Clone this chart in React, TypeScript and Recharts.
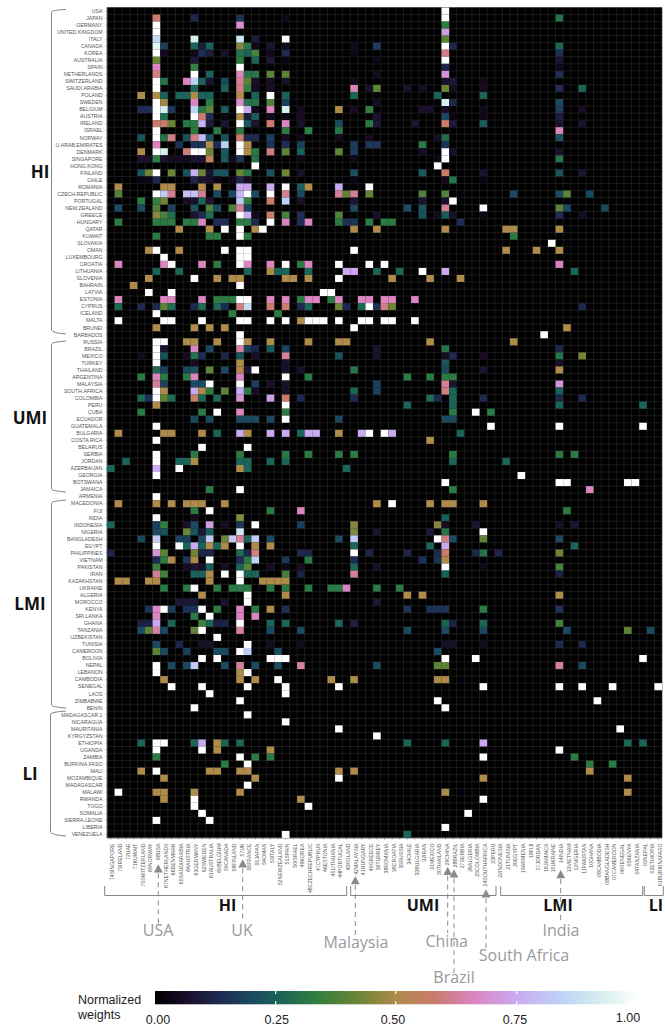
import { CartesianGrid, Scatter, ScatterChart, XAxis, YAxis } from "recharts";

const countries = [
  "USA", "JAPAN", "GERMANY", "UNITED.KINGDOM", "ITALY", "CANADA", "KOREA", "AUSTRALIA", "SPAIN", "NETHERLANDS",
  "SWITZERLAND", "SAUDI.ARABIA", "POLAND", "SWEDEN", "BELGIUM", "AUSTRIA", "IRELAND", "ISRAEL", "NORWAY", "U.ARAB.EMIRATES",
  "DENMARK", "SINGAPORE", "HONG.KONG", "FINLAND", "CHILE", "ROMANIA", "CZECH.REPUBLIC", "PORTUGAL", "NEW.ZEALAND", "GREECE",
  "HUNGARY", "QATAR", "KUWAIT", "SLOVAKIA", "OMAN", "LUXEMBOURG", "CROATIA", "LITHUANIA", "SLOVENIA", "BAHRAIN",
  "LATVIA", "ESTONIA", "CYPRUS", "ICELAND", "MALTA", "BRUNEI", "BARBADOS", "RUSSIA", "BRAZIL", "MEXICO",
  "TURKEY", "THAILAND", "ARGENTINA", "MALAYSIA", "SOUTH.AFRICA", "COLOMBIA", "PERU", "CUBA", "ECUADOR", "GUATEMALA",
  "BULGARIA", "COSTA.RICA", "BELARUS", "SERBIA", "JORDAN", "AZERBAIJAN", "GEORGIA", "BOTSWANA", "JAMAICA", "ARMENIA",
  "MACEDONIA", "FIJI", "INDIA", "INDONESIA", "NIGERIA", "BANGLADESH", "EGYPT", "PHILIPPINES", "VIETNAM", "PAKISTAN",
  "IRAN", "KAZAKHSTAN", "UKRAINE", "ALGERIA", "MOROCCO", "KENYA", "SRI.LANKA", "GHANA", "TANZANIA", "UZBEKISTAN",
  "TUNISIA", "CAMEROON", "BOLIVIA", "NEPAL", "LEBANON", "CAMBODIA", "SENEGAL", "LAOS", "ZIMBABWE", "BENIN",
  "MADAGASCAR.1", "NICARAGUA", "MAURITANIA", "KYRGYZSTAN", "ETHIOPIA", "UGANDA", "ZAMBIA", "BURKINA.FASO", "MALI", "MOZAMBIQUE",
  "MADAGASCAR", "MALAWI", "RWANDA", "TOGO", "SOMALIA", "SIERRA.LEONE", "LIBERIA", "VENEZUELA",
];

const columns = [
  "74SINGAPORE", "73IRELAND", "72UAE", "71KUWAIT", "70SWITZERLAND", "69NORWAY", "68USA", "67NETHERLANDS", "66DENMARK", "65SAUDIARABIA",
  "64AUSTRIA", "63GERMANY", "62SWEDEN", "61AUSTRALIA", "60BELGIUM", "59CANADA", "58FINLAND", "57UK", "56FRANCE", "55JAPAN",
  "54OMAN", "53ITALY", "52NEWZEALAND", "51SPAIN", "50ISRAEL", "49KOREA", "48CZECHREPUBLIC", "47CYPRUS", "46ESTONIA", "45LITHUANIA",
  "44PORTUGAL", "43POLAND", "42MALAYSIA", "41HUNGARY", "40GREECE", "39TURKEY", "38ROMANIA", "36CROATIA", "35RUSSIA", "34CHILE",
  "33BULGARIA", "32IRAN", "31MEXICO", "30THAILAND", "29CHINA", "28BRAZIL", "27SERBIA", "26ALGERIA", "25COLOMBIA", "24SOUTHAFRICA",
  "23PERU", "22INDONESIA", "21TUNISIA", "20EGYPT", "19ARMENIA", "18FIJI", "17JORDAN", "16JAMAICA", "15UKRAINE", "14INDIA",
  "13VIETNAM", "12NIGERIA", "11PAKISTAN", "10GHANA", "09CAMBODIA", "08BANGLADESH", "07CAMEROON", "06SENEGAL", "05KENYA", "04TANZANIA",
  "03NEPAL", "02ETHIOPIA", "01BURKINAFASO",
];

// one list per country: column index, weight, column index, weight ...
const weights: number[][] = [
  [44, 1],
  [6, .58, 11, .12, 17, .15, 23, .04, 44, 1, 59, .3],
  [6, 1, 17, .68, 44, .33],
  [6, 1, 44, .72],
  [6, .86, 11, .93, 17, .9, 19, .1, 23, 1, 44, .4],
  [6, .95, 7, .18, 11, .26, 12, .1, 13, .25, 17, .45, 18, .31, 19, .04, 21, .08, 23, .05, 32, .05, 35, .17, 44, 1, 45, .12, 59, .26],
  [6, 1, 7, .05, 11, .04, 12, .14, 13, .1, 15, .07, 17, .3, 18, .25, 19, .37, 21, .05, 23, .13, 32, .04, 44, .6, 59, .14],
  [6, .42, 11, .09, 17, .32, 19, .26, 21, .09, 23, .03, 35, .04, 44, 1, 59, .08],
  [6, .66, 11, .34, 17, 1, 44, .12, 59, .04],
  [6, .6, 11, 1, 13, .25, 17, .66, 18, .31, 19, .31, 21, .4, 23, .4, 35, .05, 44, .7, 59, .14],
  [6, 1, 7, .3, 10, .66, 11, .84, 12, .25, 13, .08, 15, .2, 17, .62, 18, .4, 19, .07, 21, .06, 23, .07, 32, .05, 44, .07, 45, .09, 49, .05],
  [6, 1, 11, .26, 15, .25, 17, .6, 18, .33, 19, .06, 21, .06, 32, .65, 34, .07, 35, .4, 39, .07, 41, .06, 44, .42, 45, .06, 49, .06, 59, .14, 62, .26],
  [4, .5, 6, .5, 7, .25, 9, .26, 10, .26, 11, .5, 12, .25, 13, .25, 17, .5, 19, .25, 21, 1, 23, .25, 32, .26, 43, .26, 49, .26],
  [6, 1, 7, .48, 11, .66, 13, .32, 17, .68, 18, .3, 19, .3, 21, .38, 23, .18, 35, .06, 44, .93, 45, .12, 59, .2],
  [4, .14, 5, .14, 6, 1, 7, .92, 8, .16, 11, .84, 12, .32, 13, .4, 15, .24, 17, 1, 18, .75, 19, .05, 21, .66, 23, .93, 25, .05, 30, .5, 32, .06, 34, .33, 41, .07, 42, .07, 44, .06, 49, .05, 59, .17, 62, .06],
  [6, 1, 7, .28, 11, 1, 12, .58, 13, .14, 15, .03, 17, .5, 18, .1, 19, .24, 21, .05, 23, .03, 25, .06, 35, .08, 44, .2, 45, .03, 49, .04, 59, .1],
  [6, .58, 7, .58, 8, .42, 10, .31, 11, .32, 12, .77, 13, .1, 15, .08, 17, 1, 18, .22, 19, .08, 21, .58, 23, .66, 25, .07, 30, .2, 34, .32, 35, .09, 40, .08, 44, .58, 45, .09, 49, .24, 59, .08, 62, .08],
  [6, 1, 11, .32, 14, .32, 17, .32, 23, .32, 26, .33, 30, .31, 59, .65],
  [4, .22, 6, 1, 7, .3, 8, .6, 10, .22, 11, .6, 12, .78, 13, .22, 15, .22, 17, .58, 18, .13, 19, .13, 21, .18, 23, .06, 25, .04, 30, .05, 34, .05, 43, .06, 44, .28, 59, .22],
  [6, .66, 9, .15, 11, .15, 12, .15, 13, .5, 14, .14, 15, .84, 17, 1, 18, .5, 21, .15, 23, .14, 25, .18, 32, .17, 34, .16, 35, .16, 41, .32, 44, .15],
  [4, .5, 6, 1, 7, .93, 10, .6, 11, 1, 12, 1, 13, .42, 15, .24, 17, 1, 18, .5, 19, .32, 21, .6, 23, .4, 25, .25, 30, .4, 32, .17, 41, .06, 44, 1, 45, .07, 59, .07],
  [4, .07, 5, .07, 6, .33, 7, .08, 8, .05, 9, .06, 10, .05, 11, .08, 12, .08, 13, .54, 15, .23, 16, .05, 17, .15, 19, .3, 25, .04, 32, .04, 43, .04, 44, 1, 59, .3],
  [19, 1, 43, 1],
  [4, .22, 5, .42, 6, 1, 8, .42, 10, .22, 11, .76, 12, .42, 13, .08, 14, .22, 15, .22, 17, .42, 18, .31, 21, .22, 23, .42, 25, .07, 32, .22, 41, .23, 44, .58, 49, .08, 59, .22, 62, .08],
  [4, .03, 5, .03, 6, .12, 11, .12, 12, .08, 13, .07, 14, .03, 16, .04, 17, .12, 18, .06, 32, .03, 44, .04, 45, .3, 49, .03],
  [1, .5, 7, .5, 8, .5, 12, .5, 14, .5, 17, .75, 18, .75, 21, .75, 23, 1, 25, .25, 26, .5, 30, .75, 34, 1],
  [1, .38, 6, 1, 7, .82, 8, .62, 10, .8, 11, .8, 12, .62, 14, .2, 16, .2, 17, .78, 18, 1, 19, .2, 21, 1, 23, .62, 25, .2, 30, .62, 31, .4, 32, .62, 34, .4, 41, .38, 44, .38, 53, .2, 59, .2, 60, .4, 63, .2],
  [4, .33, 6, .34, 7, .42, 10, .06, 11, .07, 12, .26, 13, .08, 17, .83, 18, .34, 21, .58, 23, .84, 25, .07, 32, .08, 41, .08, 44, .07, 45, 1],
  [1, .2, 4, .2, 6, .38, 8, .18, 11, .22, 13, .38, 14, .2, 16, .38, 17, .62, 18, .18, 32, .2, 39, .2, 41, .22, 44, .62, 49, 1, 59, .4, 60, .2, 65, .2],
  [6, .46, 7, .38, 8, .28, 11, .08, 12, .14, 13, .28, 17, 1, 18, .76, 19, .05, 21, .56, 23, .36, 25, .14, 30, .38, 35, .07, 41, .22, 43, .05, 44, .24, 45, .07, 49, .04, 59, .14, 62, .06],
  [1, .32, 6, .32, 7, .32, 8, .32, 10, .32, 11, .32, 12, .66, 14, .14, 15, .14, 17, .32, 18, .32, 19, .13, 21, 1, 23, .66, 25, .14, 26, .66, 30, .32, 31, .15, 32, .15, 34, .32, 36, .32, 37, .32, 46, .14],
  [9, .5, 13, .5, 15, 1, 17, 1, 19, .5, 20, 1, 32, .5, 35, .5, 44, .5, 52, .5, 53, .5, 59, .5],
  [6, .32, 13, .32, 14, .32, 17, 1, 18, .32, 53, .32],
  [58, 1],
  [5, .5, 6, 1, 9, .5, 15, 1, 17, 1, 18, 1, 32, 1, 52, .5, 56, .5, 59, .5],
  [7, 1, 17, 1, 18, 1],
  [1, .66, 7, .66, 8, 1, 12, .66, 14, .32, 17, 1, 18, .66, 21, .66, 23, 1, 25, .32, 26, .66, 30, 1, 34, 1, 36, 1, 59, .66],
  [6, .26, 9, .26, 18, .26, 21, .5, 22, .26, 23, .26, 26, .26, 31, .75, 32, .75, 35, .26, 38, .26, 41, 1, 44, .75, 61, .26],
  [5, .5, 11, 1, 14, .5, 16, .5, 17, .5, 23, .5, 24, .5, 26, .5, 30, 1, 37, .5, 42, .5, 46, .5],
  [3, .5, 17, 1],
  [5, 1, 8, 1, 28, 1, 29, 1],
  [1, .66, 7, .66, 8, .66, 12, .66, 14, .32, 15, .32, 16, .32, 17, 1, 18, 1, 21, .66, 23, .66, 25, .32, 26, .66, 27, .66, 29, .32, 30, .66, 33, .66, 34, .66, 36, .66, 37, .66, 40, .66],
  [1, .27, 4, .13, 6, .13, 7, .4, 8, .28, 11, .13, 12, .28, 14, .27, 15, .13, 17, .6, 18, .87, 21, .58, 23, .58, 25, .13, 26, .27, 30, .42, 31, .13, 33, .27, 34, 1, 35, .14, 36, .6, 37, .42, 62, .13],
  [6, 1, 16, .32, 22, .32],
  [1, 1, 7, 1, 8, 1, 12, 1, 17, 1, 18, 1, 21, 1, 23, 1, 25, .5, 26, 1, 27, 1, 28, 1, 30, 1, 33, 1, 34, 1, 36, 1, 37, 1, 40, 1],
  [6, .5, 11, .5, 13, .5, 15, .5, 32, 1, 60, .5],
  [17, 1, 57, 1],
  [6, 1, 7, 1, 10, .5, 11, .5, 14, .5, 17, 1, 18, .5, 21, .5, 26, .5, 30, .5, 31, .5, 42, .5, 53, .5],
  [6, 1, 7, .08, 11, .66, 13, .2, 17, .63, 18, .17, 19, .12, 21, .24, 23, .18, 35, .08, 44, .3, 59, .12],
  [4, .05, 6, 1, 7, .22, 10, .06, 11, .3, 12, .14, 15, .12, 17, .22, 19, .07, 23, .63, 30, .22, 35, .07, 44, .06, 45, .13, 49, .06, 59, .3, 62, .43],
  [6, 1, 11, .06, 17, .5, 23, .07, 44, .22, 59, .07],
  [6, .28, 7, .18, 10, .2, 11, .22, 13, .4, 15, .2, 17, .5, 18, .08, 19, 1, 23, .07, 25, .07, 32, .3, 44, .2, 49, .08, 59, .5],
  [4, .32, 6, .66, 7, .32, 10, .32, 11, .66, 17, .66, 23, 1, 26, .32, 39, .32, 42, .32, 44, .32, 45, .32],
  [6, .62, 7, .18, 11, .2, 12, .2, 13, 1, 17, 1, 19, .18, 21, .07, 23, .07, 35, .18, 44, .62, 45, .08, 59, .7],
  [6, 1, 7, .5, 11, .75, 12, .5, 13, .32, 15, .4, 17, .75, 18, .32, 19, .06, 23, .07, 32, .26, 35, .18, 44, .6, 45, .26, 59, .25],
  [4, .27, 5, .14, 6, 1, 7, .4, 8, .28, 11, .57, 12, .27, 14, .27, 17, .7, 21, .73, 23, .58, 25, .13, 32, .13, 42, .28, 43, .13, 45, .27, 49, .13, 59, .12, 62, .13],
  [6, .5, 23, 1, 39, .26, 45, .26, 59, .26, 70, .26],
  [4, .32, 12, .32, 14, 1, 17, .66, 23, .32, 45, .32, 48, 1, 50, .32],
  [11, .2, 13, .2, 17, .2, 18, .2, 19, .2, 21, .2, 23, 1, 30, .2, 44, .2, 45, .2],
  [6, 1, 50, 1, 59, 1, 70, 1],
  [1, .5, 7, .5, 8, .5, 12, .5, 14, .26, 17, .75, 18, .5, 21, .75, 23, .75, 25, .26, 26, .75, 27, .75, 30, .5, 33, .75, 34, 1, 36, 1, 37, .75, 46, .26],
  [6, 1, 42, .5],
  [12, 1, 18, 1],
  [6, 1, 11, .32, 17, .32, 23, .32, 26, .32, 30, .32, 32, .32, 45, .32, 59, .32, 61, .32],
  [2, .26, 6, 1, 9, .26, 10, .26, 11, .5, 17, .26, 18, .26, 21, .26, 23, .26, 45, .26, 52, .26],
  [0, .26, 6, .75, 9, 1, 17, .5, 18, .26, 31, .26],
  [6, 1, 54, 1],
  [44, 1, 59, 1, 60, 1, 68, 1, 69, 1],
  [13, .32, 17, 1, 45, .32, 63, .66],
  [6, 1],
  [1, .5, 6, .5, 8, .5, 10, .5, 11, .5, 12, .5, 15, .5, 35, .5, 37, 1, 42, .5, 44, .5, 45, .5, 49, .5],
  [11, .32, 13, 1, 21, .32, 25, .66, 60, .32],
  [6, 1, 11, .05, 17, .45, 44, .24],
  [0, .26, 6, .18, 7, .34, 10, .07, 11, .2, 13, .72, 15, .06, 17, .16, 19, 1, 25, .18, 32, .45, 43, .45, 44, .06, 48, .08, 59, .07, 61, .08],
  [6, .2, 7, .22, 10, .42, 11, .22, 12, .09, 13, .24, 17, .9, 32, .45, 35, .08, 42, .09, 44, .3, 49, 1],
  [4, .2, 6, .82, 9, .18, 10, .18, 12, .2, 13, .82, 15, .42, 16, .82, 17, .62, 18, .26, 19, .82, 21, .2, 30, .2, 32, .83, 43, 1, 44, .6, 45, .2, 49, .4, 59, .2],
  [6, 1, 9, 1, 10, .26, 11, .75, 12, .26, 13, .5, 14, .26, 15, .5, 17, 1, 19, .5, 21, .5, 32, .26, 42, .26, 44, .75, 61, .26],
  [0, .12, 6, .7, 7, .4, 11, .42, 12, .12, 13, .12, 17, .28, 18, .12, 19, .6, 25, .13, 26, .12, 32, 1, 34, .12, 39, .12, 43, .13, 44, .58, 48, .12, 49, .3, 51, .12, 59, .42],
  [6, .14, 7, .32, 8, .5, 10, .16, 11, .5, 13, 1, 17, .14, 18, .32, 19, .85, 23, .16, 26, .32, 32, .14, 41, .15, 43, .15, 44, .5],
  [6, .35, 10, .06, 11, .08, 12, .07, 13, .24, 15, .06, 17, .26, 18, .4, 21, .06, 23, .04, 25, .06, 32, .27, 35, .07, 44, 1, 49, .04, 59, .36],
  [6, .62, 7, .36, 11, .25, 12, .25, 13, .5, 15, 1, 17, 1, 18, .26, 19, .26, 23, .36, 25, .11, 32, .62, 44, .25, 59, .11],
  [1, .5, 2, .5, 5, .5, 6, .5, 13, .5, 17, 1, 20, .5, 21, .5, 22, .5, 23, .5],
  [7, .32, 10, .32, 11, 1, 14, .32, 16, .32, 17, .32, 18, .32, 21, .32, 23, .32, 26, .32, 29, .32, 30, .32, 31, .66, 35, .32, 38, .32],
  [12, .5, 18, 1, 23, .5, 39, .5, 41, .5, 59, .5],
  [9, .09, 10, .09, 11, .09, 15, .08, 18, 1, 35, .09],
  [5, .15, 6, .66, 7, 1, 8, .17, 10, .15, 11, .15, 12, 1, 14, .32, 17, .66, 19, .32, 21, .5, 23, .14, 39, .15, 42, .15, 43, .15, 44, .15, 49, .32, 59, .15],
  [6, .66, 11, .32, 13, 1, 17, .66, 19, .66],
  [4, .11, 5, .11, 6, .75, 8, .26, 12, .36, 13, .26, 14, .11, 15, .11, 17, 1, 21, .26, 23, .26, 30, .26, 32, .11, 44, .26, 45, .11, 49, .26, 59, .36],
  [4, .2, 5, .4, 6, .63, 7, .2, 11, .4, 12, 1, 17, .63, 21, .2, 25, .2, 39, .2, 44, .2, 49, .2, 60, .2, 68, .4, 71, .2],
  [14, 1],
  [6, .2, 9, .12, 12, .07, 13, .07, 18, 1, 21, .06, 25, .05, 44, .07, 45, .07, 49, .05, 59, .13, 62, .12],
  [6, .4, 7, .2, 10, .18, 14, .2, 15, .2, 17, 1, 18, .83, 22, .2, 43, .2],
  [12, 1, 14, 1, 21, 1, 22, 1, 23, 1, 44, 1, 48, 1, 70, 1],
  [6, 1, 8, .2, 10, .2, 11, .82, 15, .2, 17, .63, 19, .2, 22, .2, 25, .63, 35, .2, 43, .4, 44, .4, 59, .63, 62, .2],
  [6, 1, 17, .5, 18, 1],
  [7, .5, 17, .5, 19, .5, 22, 1, 29, .5, 32, .5, 43, .5, 44, .5],
  [8, 1, 12, 1, 18, 1, 23, 1, 30, 1, 49, 1, 59, 1, 62, 1, 66, 1, 72, 1],
  [13, 1, 23, 1],
  [17, 1, 43, 1, 64, 1],
  [11, 1, 44, 1],
  [18, 1],
  [23, 1],
  [30, 1, 67, 1],
  [35, 1],
  [4, .26, 6, 1, 7, 1, 11, .26, 12, .75, 14, .5, 15, .26, 17, .26, 39, .26, 44, .26, 49, .75, 68, .26, 70, .26],
  [6, 1, 12, 1, 14, .5, 21, .5, 59, 1],
  [6, .32, 17, 1, 19, .32, 21, .32, 49, 1, 61, .32],
  [15, .32, 18, 1, 63, .32, 66, .32],
  [4, .5, 6, 1, 13, .5, 14, .5, 17, .5, 18, .5, 30, .5, 32, .5, 63, .5],
  [7, .5, 19, .5, 30, 1, 49, .5, 68, .5],
  [18, 1],
  [1, 1, 6, .5, 7, .5, 11, .5, 17, .5, 44, .5, 68, .5],
  [7, .5, 11, 1, 25, .5, 49, 1],
  [11, 1, 26, 1],
  [12, 1, 47, 1],
  [6, 1, 13, 1],
  [44, 1],
  [23, 1, 39, .26],
];

const colorStops: [number, string][] = [
  [0, "#000000"], [.06, "#180c24"], [.14, "#1f2d55"], [.2, "#1b4a60"], [.26, "#1a6558"], [.33, "#2f7d40"],
  [.42, "#6b8535"], [.5, "#ae8a4b"], [.58, "#cb7b6c"], [.66, "#da85bf"], [.75, "#c9aaf0"], [.85, "#bdd6f5"],
  [.93, "#d8f0ee"], [1, "#ffffff"],
];

const legendTicks = ["0.00", "0.25", "0.50", "0.75", "1.00"];

const groupBrackets = [
  { name: "HI", side: "M66 9.5 Q52 10 51.5 12 V330 Q52 333 66 334", x: 40, y: 172 },
  { name: "UMI", side: "M66 341 Q52 342 51.5 344 V489 Q52 491 66 492", x: 30, y: 418 },
  { name: "LMI", side: "M66 500 Q52 501 51.5 503 V705 Q52 707 66 708", x: 30, y: 604 },
  { name: "LI", side: "M66 711 Q52 712 50.5 714 V832 Q52 835 66 836", x: 30, y: 774 },
];

const bottomBrackets = [
  { name: "HI", x1: 104.7, x2: 346.7, lx: 227.5 },
  { name: "UMI", x1: 350.7, x2: 496, lx: 423 },
  { name: "LMI", x1: 500.7, x2: 642.7, lx: 558 },
  { name: "LI", x1: 644.3, x2: 663.3, lx: 656 },
];

const callouts = [
  { name: "USA", x: 158.3, tip: 864.3, end: 925, tx: 158, ty: 930 },
  { name: "UK", x: 242.7, tip: 859.3, end: 920, tx: 242, ty: 930 },
  { name: "Malaysia", x: 355.3, tip: 876, end: 935, tx: 356, ty: 942.5 },
  { name: "China", x: 447.7, tip: 866.7, end: 933, tx: 446.7, ty: 941 },
  { name: "Brazil", x: 454, tip: 869.3, end: 973, tx: 454, ty: 977 },
  { name: "South Africa", x: 486, tip: 889.3, end: 948, tx: 524, ty: 955 },
  { name: "India", x: 560.7, tip: 870, end: 921.7, tx: 561, ty: 930 },
];

const cellData = weights.flatMap((list, row) => {
  const out: { col: number; row: number; weight: number }[] = [];
  for (let i = 0; i < list.length; i += 2) out.push({ col: list[i] + 0.5, row: row + 0.5, weight: list[i + 1] });
  return out;
});

const W = 665;
const H = 1025;
const PLOT = { left: 107, top: 7.5, width: 555, height: 830.5 };
const cellW = PLOT.width / columns.length;
const cellH = PLOT.height / countries.length;

function hexToRgb(hex: string) {
  return [1, 3, 5].map((i) => parseInt(hex.slice(i, i + 2), 16));
}

function weightColor(v: number) {
  for (let i = 1; i < colorStops.length; i++) {
    const [v0, c0] = colorStops[i - 1];
    const [v1, c1] = colorStops[i];
    if (v <= v1) {
      const t = (v - v0) / (v1 - v0);
      const a = hexToRgb(c0);
      const b = hexToRgb(c1);
      return `rgb(${a.map((x, k) => Math.round(x + (b[k] - x) * t)).join(",")})`;
    }
  }
  return "#ffffff";
}

const CellShape = (props: any) => (
  <rect
    x={props.cx - cellW / 2}
    y={props.cy - cellH / 2}
    width={cellW}
    height={cellH}
    fill={weightColor(props.payload.weight)}
  />
);

const CountryTick = ({ x, y, payload }: any) => (
  <text x={x - 1} y={y + 1.8} textAnchor="end" fontSize={5.2} fontFamily="Liberation Sans" fill="#555">
    {countries[Math.floor(payload.value)]}
  </text>
);

const ColumnTick = ({ x, y, payload }: any) => (
  <text
    transform={`translate(${x + 3.6},${y + 1.5}) rotate(-90)`}
    textAnchor="end"
    fontSize={5.2}
    fontFamily="Liberation Sans"
    fill="#555"
  >
    {columns[Math.floor(payload.value)]}
  </text>
);

const edgeValues = (count: number) => Array.from({ length: count + 1 }, (_, i) => i);
const centerValues = (count: number) => Array.from({ length: count }, (_, i) => i + 0.5);

const Annotations = () => (
  <svg width={W} height={H} style={{ position: "absolute", left: 0, top: 0, pointerEvents: "none" }}>
    <defs>
      <linearGradient id="weightBar">
        {colorStops.map(([v, c]) => (
          <stop key={v} offset={v} stopColor={c} />
        ))}
      </linearGradient>
    </defs>

    {/* rows grouped by income */}
    {groupBrackets.map((b) => (
      <g key={b.name}>
        <path d={b.side} fill="none" stroke="#777" strokeWidth={0.9} />
        <text x={b.x} y={b.y} dy="0.36em" textAnchor="middle" fontSize={17} fontWeight={700} fontFamily="Open Sans" fill="#111">
          {b.name}
        </text>
      </g>
    ))}

    {/* columns grouped by income */}
    {bottomBrackets.map((b) => (
      <g key={b.name}>
        <path d={`M${b.x1} 886 V895.5 H${b.x2} V886`} fill="none" stroke="#777" strokeWidth={0.9} />
        <text x={b.lx} y={905.5} dy="0.36em" textAnchor="middle" fontSize={16} fontWeight={700} fontFamily="Open Sans" fill="#111">
          {b.name}
        </text>
      </g>
    ))}

    {callouts.map((c) => (
      <g key={c.name}>
        <path d={`M${c.x} ${c.tip} l4.4 8.3 h-8.8 z`} fill="#8a8a8a" />
        <line x1={c.x} x2={c.x} y1={c.tip + 9} y2={c.end} stroke="#8a8a8a" strokeWidth={1} strokeDasharray="5 4" />
        <text x={c.tx} y={c.ty} dy="0.36em" textAnchor="middle" fontSize={16} fontFamily="Open Sans" fill="#9a9a9a">
          {c.name}
        </text>
      </g>
    ))}

    {/* colour bar */}
    <text x={78} y={999} dy="0.36em" fontSize={12.5} fontFamily="Liberation Sans" fill="#222">Normalized</text>
    <text x={78} y={1014} dy="0.36em" fontSize={12.5} fontFamily="Liberation Sans" fill="#222">weights</text>
    <rect x={155} y={991} width={482} height={13.3} fill="url(#weightBar)" />
    {[275.7, 395.7, 516.7].map((x) => (
      <g key={x}>
        <line x1={x} x2={x} y1={991} y2={994} stroke="#fff" strokeWidth={1.2} />
        <line x1={x} x2={x} y1={1001.3} y2={1004.3} stroke="#fff" strokeWidth={1.2} />
      </g>
    ))}
    {legendTicks.map((t, i) => (
      <text key={t} x={[158, 276.7, 393, 515, 628][i]} y={i === 4 ? 1017 : 1019} dy="0.36em" textAnchor="middle" fontSize={12.5} fontFamily="Liberation Sans" fill="#222">
        {t}
      </text>
    ))}
  </svg>
);

export default function App() {
  return (
    <div style={{ position: "absolute", left: 0, top: 0, width: W, height: H, background: "#fff" }}>
      <ScatterChart width={W} height={H} margin={{ top: PLOT.top, right: W - PLOT.left - PLOT.width, bottom: 0, left: 0 }}>
        <CartesianGrid
          fill="#000000"
          fillOpacity={1}
          stroke="#2c2c2c"
          strokeWidth={0.6}
          verticalValues={edgeValues(columns.length)}
          horizontalValues={edgeValues(countries.length)}
        />
        <XAxis
          type="number"
          dataKey="col"
          domain={[0, columns.length]}
          ticks={centerValues(columns.length)}
          interval={0}
          height={H - PLOT.top - PLOT.height}
          tick={<ColumnTick />}
          tickSize={2}
          tickLine={{ stroke: "#888", strokeWidth: 0.5 }}
          axisLine={{ stroke: "#999", strokeWidth: 0.6 }}
        />
        <YAxis
          type="number"
          dataKey="row"
          reversed
          domain={[0, countries.length]}
          ticks={centerValues(countries.length)}
          interval={0}
          width={PLOT.left}
          tick={<CountryTick />}
          tickSize={1.5}
          tickLine={{ stroke: "#666", strokeWidth: 0.5 }}
          axisLine={{ stroke: "#999", strokeWidth: 0.6 }}
        />
        <Scatter data={cellData} shape={<CellShape />} isAnimationActive={false} />
      </ScatterChart>
      <Annotations />
    </div>
  );
}
